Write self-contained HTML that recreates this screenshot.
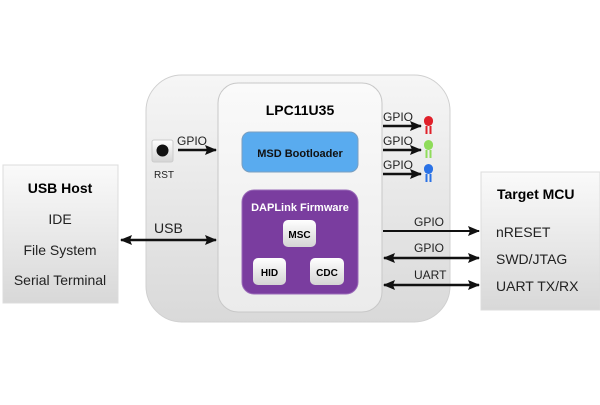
<!DOCTYPE html>
<html><head><style>
body{margin:0;width:600px;height:400px;background:#fff;overflow:hidden}
svg{font-family:"Liberation Sans",sans-serif}
</style></head><body>
<svg width="600" height="400" viewBox="0 0 600 400">
<defs>
<linearGradient id="g1" x1="0" y1="0" x2="0" y2="1"><stop offset="0" stop-color="#f6f6f6"/><stop offset="1" stop-color="#d9d9d9"/></linearGradient>
<linearGradient id="g2" x1="0" y1="0" x2="0" y2="1"><stop offset="0" stop-color="#fafafa"/><stop offset="1" stop-color="#ebebeb"/></linearGradient>
<linearGradient id="g3" x1="0" y1="0" x2="0" y2="1"><stop offset="0" stop-color="#fafafa"/><stop offset="1" stop-color="#d8d8d8"/></linearGradient>
<linearGradient id="g4" x1="0" y1="0" x2="0" y2="1"><stop offset="0" stop-color="#fff"/><stop offset="1" stop-color="#d4d4d4"/></linearGradient>
<marker id="ah" markerWidth="12" markerHeight="10" refX="11" refY="5" orient="auto-start-reverse" markerUnits="userSpaceOnUse"><path d="M0,0 L12,5 L0,10 L2,5Z" fill="#111"/></marker>
</defs>
<rect x="146" y="75" width="304" height="247" rx="36" fill="url(#g1)" stroke="#d0d0d0"/>
<rect x="218" y="83" width="164" height="229" rx="20" fill="url(#g2)" stroke="#c8c8c8"/>
<text x="300" y="115" text-anchor="middle" font-weight="bold" font-size="14">LPC11U35</text>
<rect x="242" y="132" width="116" height="40" rx="8" fill="#59abef" stroke="#7a9fc0"/>
<text x="300" y="157" text-anchor="middle" font-weight="bold" font-size="11" fill="#111">MSD Bootloader</text>
<rect x="242" y="190" width="116" height="104" rx="12" fill="#7a3d9f" stroke="#9a6ab8"/>
<text x="300" y="211" text-anchor="middle" font-weight="bold" font-size="11" fill="#fff">DAPLink Firmware</text>
<rect x="283" y="220" width="33" height="27" rx="5" fill="url(#g4)"/>
<text x="299.5" y="238" text-anchor="middle" font-weight="bold" font-size="10">MSC</text>
<rect x="253" y="258" width="33" height="27" rx="5" fill="url(#g4)"/>
<text x="269.5" y="276" text-anchor="middle" font-weight="bold" font-size="10">HID</text>
<rect x="310" y="258" width="34" height="27" rx="5" fill="url(#g4)"/>
<text x="327" y="276" text-anchor="middle" font-weight="bold" font-size="10">CDC</text>
<rect x="152" y="140" width="21" height="22" rx="2" fill="url(#g4)" stroke="#ccc"/>
<circle cx="162.5" cy="150.5" r="6" fill="#111"/>
<text x="154" y="178" font-size="10" fill="#222">RST</text>
<g stroke="#111" stroke-width="2.5" fill="none">
<line x1="178" y1="150" x2="216" y2="150" marker-end="url(#ah)"/>
<line x1="121" y1="240" x2="216" y2="240" marker-start="url(#ah)" marker-end="url(#ah)"/>
<line x1="383" y1="126" x2="421" y2="126" marker-end="url(#ah)"/>
<line x1="383" y1="150" x2="421" y2="150" marker-end="url(#ah)"/>
<line x1="383" y1="174" x2="421" y2="174" marker-end="url(#ah)"/>
<line x1="383" y1="231" x2="479" y2="231" stroke-width="2" marker-end="url(#ah)"/>
<line x1="384" y1="258" x2="479" y2="258" marker-start="url(#ah)" marker-end="url(#ah)"/>
<line x1="384" y1="285" x2="479" y2="285" marker-start="url(#ah)" marker-end="url(#ah)"/>
</g>
<g font-size="12" fill="#222">
<text x="177" y="145">GPIO</text>
<text x="154" y="233" font-size="14">USB</text>
<text x="383" y="121">GPIO</text>
<text x="383" y="145">GPIO</text>
<text x="383" y="169">GPIO</text>
<text x="414" y="226">GPIO</text>
<text x="414" y="252">GPIO</text>
<text x="414" y="279">UART</text>
</g>
<g><rect x="424" y="116" width="9" height="10" rx="4.5" fill="#e0202a"/><rect x="425.5" y="126" width="2" height="8" fill="#e0202a"/><rect x="429.5" y="126" width="2" height="8" fill="#e0202a"/></g>
<g><rect x="424" y="140" width="9" height="10" rx="4.5" fill="#8fdc5a"/><rect x="425.5" y="150" width="2" height="8" fill="#8fdc5a"/><rect x="429.5" y="150" width="2" height="8" fill="#8fdc5a"/></g>
<g><rect x="424" y="164" width="9" height="10" rx="4.5" fill="#2a72e6"/><rect x="425.5" y="174" width="2" height="8" fill="#2a72e6"/><rect x="429.5" y="174" width="2" height="8" fill="#2a72e6"/></g>
<rect x="3" y="165" width="115" height="138" fill="url(#g3)" stroke="#dcdcdc"/>
<text x="60" y="193" text-anchor="middle" font-weight="bold" font-size="14">USB Host</text>
<g font-size="14" fill="#222" text-anchor="middle">
<text x="60" y="224">IDE</text>
<text x="60" y="255">File System</text>
<text x="60" y="285">Serial Terminal</text>
</g>
<rect x="481" y="172" width="119" height="138" fill="url(#g3)" stroke="#dcdcdc"/>
<text x="497" y="199" font-weight="bold" font-size="14">Target MCU</text>
<g font-size="14" fill="#222">
<text x="496" y="237">nRESET</text>
<text x="496" y="264">SWD/JTAG</text>
<text x="496" y="291">UART TX/RX</text>
</g>
</svg>
</body></html>
